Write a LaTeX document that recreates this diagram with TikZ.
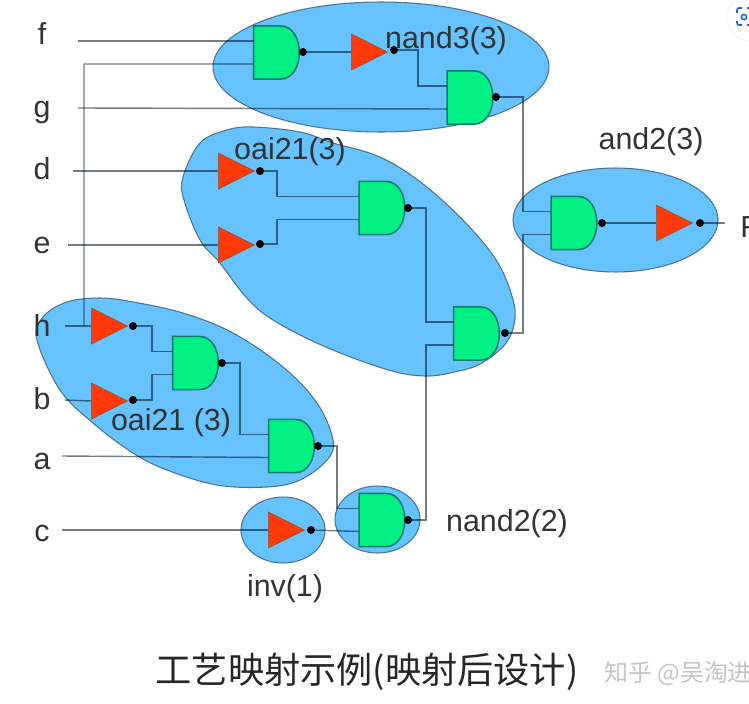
\documentclass[tikz,border=0pt]{standalone}
\usepackage{fontspec}
\setmainfont{Liberation Sans}
\newfontfamily\cjk{Noto Sans CJK SC}
\usepackage{tikz}
\usetikzlibrary{calc, shapes.geometric}
\definecolor{mapBlue}{HTML}{66C3FF}
\definecolor{mapEdge}{HTML}{47748F}
\definecolor{mapGreen}{HTML}{00F084}
\definecolor{mapTeal}{HTML}{0E7C70}
\definecolor{mapRed}{HTML}{FF3A08}
\definecolor{mapWire}{HTML}{757D83}
\definecolor{mapMark}{HTML}{C4C4C4}
\definecolor{mapLens}{HTML}{1A66CC}
\tikzset{
  cluster/.style={draw=mapEdge, fill=mapBlue, semithick},
  gateline/.style={draw=mapTeal, fill=mapGreen, line width=0.9pt},
  andbox/.style={rectangle, inner sep=0pt, minimum width=0.9cm, minimum height=1.05cm,
    append after command={\pgfextra{\let\gname\tikzlastnode
      \draw[gateline] (\gname.north west) -- ($(\gname.north)+(4,0)$)
        to[out=0,in=90] (\gname.east) to[out=-90,in=0] ($(\gname.south)+(4,0)$)
        -- (\gname.south west) -- cycle;
      \coordinate (\gname A) at ($(\gname.west)+(0,-11.5)$);
      \coordinate (\gname B) at ($(\gname.west)+(0,11.5)$);}}},
  invbox/.style={isosceles triangle, isosceles triangle apex angle=53, anchor=west,
    draw=mapTeal!50!mapRed, fill=mapRed, inner sep=0pt, minimum height=0.72cm,
    minimum width=0.72cm, shape border rotate=0},
  pin/.style={circle, fill=black, inner sep=0pt, minimum size=0.16cm},
  wire/.style={color=mapWire, line width=0.8pt, blend mode=multiply},
  lbl/.style={font=\fontsize{17.3}{20}\selectfont, text=black!80, inner sep=0pt}
}
\begin{document}
\begin{tikzpicture}[x=0.02cm, y=-0.02cm]
  \useasboundingbox (0,0) rectangle (749,703);
  % Zonas del mapeo
  \node[cluster, ellipse, inner sep=0pt, minimum width=6.72cm, minimum height=2.6cm] (zoneTop) at (381,67) {};
  \node[cluster, ellipse, inner sep=0pt, minimum width=4.1cm, minimum height=2.08cm] (zoneAnd) at (615.5,220) {};
  \node[cluster, ellipse, inner sep=0pt, minimum width=1.68cm, minimum height=1.32cm] (zoneInv) at (283,530) {};
  \node[cluster, ellipse, inner sep=0pt, minimum width=1.7cm, minimum height=1.34cm] (zoneNand) at (377.5,519.5) {};
  \draw[cluster] plot[smooth cycle, tension=0.6] coordinates {
    (253,127) (300,132) (333,143) (375,155) (408,173) (442,200) (475,233) (498,263)
    (511,293) (515,318) (506,343) (480,364) (450,373) (427,376) (400,373) (367,363)
    (333,350) (300,335) (267,316) (245,296) (220,263) (200,240) (184,200) (183,177)
    (200,143) (227,130)};
  \draw[cluster] plot[smooth cycle, tension=0.6] coordinates {
    (100,298) (133,302) (183,313) (233,333) (283,367) (317,403) (333,440) (327,460)
    (300,480) (267,487) (217,485) (167,470) (133,453) (93,423) (60,390) (37,340)
    (43,317) (67,302)};
  % Compuertas y sus salidas
  \foreach \nombre/\x/\y/\px/\py in {%
    gateF/276.5/52.5/303/52,
    gateG/470/97.5/496/97,
    gateD/382/208/408/208,
    gateM/476.5/333.5/505/333,
    gateR/574/223/602/223,
    gateH/195.5/363/222/363,
    gateA/291.5/446/318/446,
    gateC/382/520/408/520%
  } {
    \node[andbox] (\nombre) at (\x,\y) {};
    \node[pin] (\nombre Q) at (\px,\py) {};
  }
  \foreach \nombre/\x/\y/\px/\py in {%
    invF/351/52/394/50,
    invD/218/171/260/171,
    invE/218/245/260/244,
    invR/656/223/700/223,
    invH/91/326/133/326,
    invB/91/401/133/400,
    invC/268/530/311/530%
  } {
    \node[invbox] (\nombre) at (\x,\y) {};
    \node[pin] (\nombre Q) at (\px,\py) {};
  }
  % Entradas y salida libre
  \coordinate (inF) at (78,41);
  \coordinate (inG) at (78,108);
  \coordinate (inD) at (73,171);
  \coordinate (inE) at (68,245);
  \coordinate (inH) at (65,326);
  \coordinate (inB) at (65,400);
  \coordinate (inA) at (62,456);
  \coordinate (inC) at (62,530);
  \coordinate (outR) at (725,223);
  % Cables
  \draw[wire] (inF) -- (gateFA);
  \draw[wire] (inG) -- (gateGB);
  \draw[wire] (inD) -- (invD.west);
  \draw[wire] (inE) -- (invE.west);
  \draw[wire] (inH) -- (invH.west);
  \draw[wire] (inB) -- (invB.west);
  \draw[wire] (inA) -- (gateAB);
  \draw[wire] (inC) -- (invC.west);
  \draw[wire] (gateFB) -- (84,64) -- (84,326);
  \draw[wire] (gateFQ) -- (invF.west);
  \draw[wire] (invFQ) -- (418,50) |- (gateGA);
  \draw[wire] (gateGQ) -- (523,97) |- (gateRA);
  \draw[wire] (gateMQ) -- (523,333) |- (gateRB);
  \draw[wire] (invDQ) -- (277,171) |- (gateDA);
  \draw[wire] (invEQ) -- (277,244) |- (gateDB);
  \draw[wire] (gateDQ) -- (426,208) |- (gateMA);
  \draw[wire] (gateCQ) -- (426,520) |- (gateMB);
  \draw[wire] (invHQ) -- (152,326) |- (gateHA);
  \draw[wire] (invBQ) -- (152,400) |- (gateHB);
  \draw[wire] (gateHQ) -- (240,363) |- (gateAA);
  \draw[wire] (gateAQ) -- (337,446) |- (gateCA);
  \draw[wire] (invCQ) -- (gateCB);
  \draw[wire] (gateRQ) -- (invR.west);
  \draw[wire] (invRQ) -- (outR);
  % Textos
  \foreach \nombre/\txt/\x/\y in {%
    lblF/f/42/34,
    lblG/g/42/112,
    lblD/d/42/169,
    lblE/e/42/245,
    lblH/h/42/325,
    lblB/b/42/399,
    lblA/a/42/461,
    lblC/c/42/533,
    lblNandT/nand3(3)/446/41,
    lblOaiT/oai21(3)/290/152,
    lblAnd/and2(3)/651/142,
    lblOaiB/oai21 (3)/171/423,
    lblNandB/nand2(2)/507/524,
    lblInv/inv(1)/285/589%
  } {
    \node[lbl] (\nombre) at (\x,\y) {\txt};
  }
  \node[lbl, anchor=west] (lblR) at (740,227) {R};
  \node[inner sep=0pt, text=black!85, font=\cjk\fontsize{20.6}{24}\selectfont] (caption) at (367,672) {工艺映射示例(映射后设计)};
  \node[anchor=west, inner sep=0pt, text=mapMark, font=\cjk\fontsize{13.6}{16}\selectfont] (mark) at (604,674) {知乎 @吴淘进};
  % Icono de la esquina
  \fill[white, draw=black!6] (751,17) circle (24);
  \draw[mapLens, line width=0.9pt, rounded corners=1.2pt]
    (737,13) -- (737,8) -- (742,8)  (737,21) -- (737,25) -- (742,25)
    (747,25) -- (749,25)  (747,8) -- (749,8);
  \draw[mapLens, line width=0.9pt] (744,17) circle (2.6);
\end{tikzpicture}
\end{document}
